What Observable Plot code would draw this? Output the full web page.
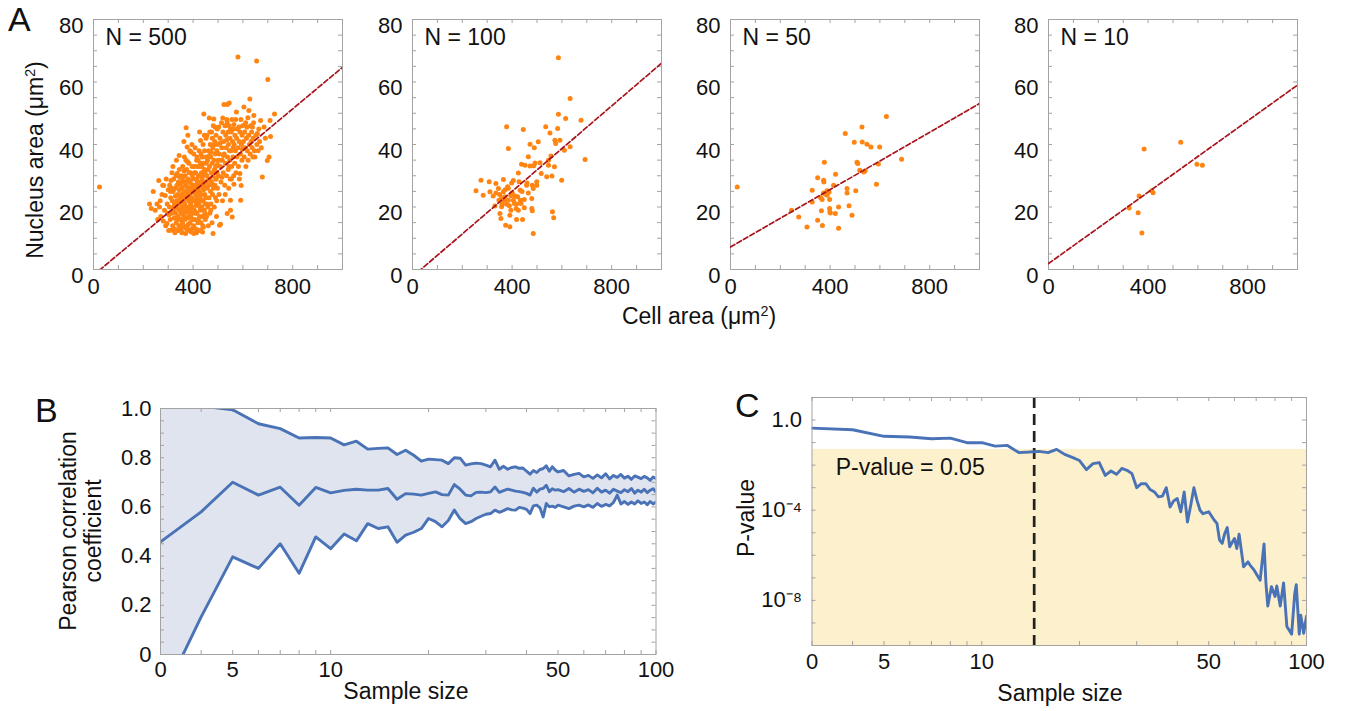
<!DOCTYPE html>
<html><head><meta charset="utf-8">
<script src="https://cdn.jsdelivr.net/npm/d3@7"></script>
<script src="https://cdn.jsdelivr.net/npm/@observablehq/plot@0.6"></script>
<style>
body{margin:0;background:#fff;font-family:"Liberation Sans",Arial,sans-serif;}
#root{position:relative;width:1345px;height:711px;overflow:hidden;background:#fff;}
.panel{position:absolute;}
.lbl{position:absolute;color:#111;white-space:nowrap;font-size:23px;line-height:1;}
.rot{transform:translate(-50%,-50%) rotate(-90deg);text-align:center;}
.ctr{transform:translate(-50%,-50%);}
.letter{position:absolute;font-size:34px;color:#111;line-height:1;}
sup{font-size:0.62em;vertical-align:0.55em;line-height:0;}
</style></head><body><div id="root"></div><script>
// ---------- Panel A data (cell area µm², nucleus area µm²) ----------
const panelLabels = ["N = 500", "N = 100", "N = 50", "N = 10"];
const fitSlope = [0.0665, 0.0683, 0.0459, 0.0571];
const fitIntercept = [-1.8, -2.29, 7.2, 1.9];
const cellTicksMajor = [0, 400, 800];
const cellTicksMinor = [0,100,200,300,400,500,600,700,800,900,1000];
const nucTicksMajor = [0, 20, 40, 60, 80];
const nucTicksMinor = [0,5,10,15,20,25,30,35,40,45,50,55,60,65,70,75,80];

const pts500 = [
[24,26.4],
[225,21],[232,19.5],[240,25],[248,19],[255,21],[258,16],[262,28.5],[268,22],[270,17],[275,24],[278,27],[282,26.9],[285,19],[288,23.7],[290,14],[292,29],[295,14.7],[296,21],[298,18],[300,25.5],[265,20],[280,15.5],
[302,12.5],[305,20],[306,27],[308,16],[310,23],[311,28.5],[312,12.6],[314,18],[315,31],[316,22],[318,14],[320,25],[321,19],[322,29],[324,16.5],[325,21],[326,13],[328,26],[329,23.5],[330,18],[331,30],[332,15],[334,22],[335,27],[336,30.7],[337,12.5],[338,19.5],[339,24],[340,17],[341,28],[342,21],[343,14],[344,25.5],[345,32],[346,19],[347,23],[348,16],[349,27.5],[350,13],[350,21.5],[303,17.5],[309,25],[319,33],[327,11.8],[333,35],[344,36.5],[313,26],[323,20],[336,16],[347,29.5],
[351,24],[352,18],[353,30],[354,12],[355,26.5],[356,20],[357,15],[358,33],[359,22.5],[360,17.5],[361,28],[362,13.5],[363,25],[364,19],[365,36],[366,21],[367,16],[368,30],[369,23],[370,11.5],[371,27],[372,45.4],[373,18.5],[374,32],[375,24.5],[376,39.2],[377,14],[378,20],[379,29],[380,16.5],[381,26],[382,22],[383,34],[384,12.5],[385,19],[386,28.5],[387,24],[388,15],[389,31],[390,21],[391,17],[392,37.6],[393,26],[394,13],[395,23],[396,19.5],[397,30],[398,16],[399,27],[400,22],[352,26],[354,16],[357,29],[359,14.5],[361,22],[364,31.5],[366,25],[368,17],[370,20],[372,28],[374,13],[376,23],[378,34.5],[380,19],[382,25.5],[384,31],[386,17.5],[388,22.5],[390,27.5],[392,12],[394,20],[396,33],[398,25],[355,11.8],[363,41],[371,35],[379,43],[387,38],[395,40],[360,23.5],[367,19],[373,26.5],[381,14.5],[389,24.5],[397,18],
[401,29],[402,14],[403,11.5],[404,25],[405,19],[406,33],[407,22],[408,16],[409,27],[410,31],[411,20.5],[412,13],[413,24],[414,35],[415,18],[416,36],[417,28],[418,22],[419,15],[420,26],[421,30],[422,12.5],[423,21],[424,38],[425,25],[426,17],[427,33],[428,23],[429,19],[430,41.3],[430,12.6],[431,28],[432,15],[433,31],[434,24],[435,20],[436,36],[437,26.5],[438,17],[439,30],[440,22],[441,13.5],[442,34],[443,49.8],[444,27],[445,19],[446,38],[447,24],[448,31],[449,16],[450,28],[403,37],[406,26],[409,18],[412,22.5],[415,29],[418,33],[421,16],[424,27],[427,20],[430,34],[433,22],[436,29],[439,14],[442,25.5],[445,32],[448,21],[405,31],[410,24],[415,21],[420,35],[425,30],[435,33],[440,40],[445,43],[450,36],[408,39],[426,44],[438,12],[414,11.8],[432,37],[447,18],[422,23.5],[417,25.5],[428,27.5],
[451,23],[452,42],[454,17],[455,30],[456,42.9],[457,26],[458,35],[459,20],[460,32],[461,14],[462,38],[463,27],[464,23],[465,48.5],[466,33],[467,18],[468,29],[469,40],[470,25],[471,36],[472,21],[473,31],[474,44],[475,28],[476,15],[477,34],[478,24],[479,39],[480,11.5],[480,30],[481,46],[482,26],[483,48.2],[484,35],[485,20],[486,32],[487,41],[488,27],[489,37],[490,23],[491,33],[492,43],[493,29],[494,17],[495,38],[496,31],[497,45],[498,26],[499,35],[500,40],[453,34],[459,28.5],[465,36.5],[471,19],[477,42],[483,31],[489,45.5],[495,22],[467,44],[473,37.5],[485,40],[491,29],[497,33.5],[456,21],[479,27],
[502,30],[503,45.6],[505,37],[506,14.2],[508,42],[510,14.5],[510,33],[512,28],[514,47],[515,39],[517,35],[518,22],[520,44],[521,31],[523,41],[524,52.8],[525,37],[527,27],[528,46],[530,34],[531,43],[533,39],[534,30],[535,48],[537,52.8],[537,47.2],[537,17.9],[538,36],[540,44],[541,32],[542,40],[543,26],[545,53.3],[545,46],[546,38],[547,35],[548,42],[549,29],[550,19],[550,45],[550,22.2],[504,24],[509,40.5],[516,29.5],[522,36.5],[529,24],[536,41.5],[544,33],[507,35],[519,48.5],
[552,38],[553,44],[555,33],[556,48],[557,16.8],[558,41],[560,36],[562,45],[563,30],[564,46.4],[564,27.3],[565,40],[567,34],[568,43],[570,38],[571,48],[572,31],[574,50.4],[575,42],[576,36],[578,45],[580,68],[580,39],[582,33],[584,45.6],[585,41],[586,29],[588,30.7],[588,44],[590,37],[591,22.2],[592,48],[593,26.9],[594,40],[596,35],[597,43],[598,38.5],[599,46],[554,29],[561,39],
[602,41],[604,52],[605,36],[607,44],[609,39],[611,47],[612,33],[614,42],[616,45.5],[618,38],[620,48.6],[621,35],[623,43],[624,50.9],[626,40],[628,54.6],[629,37],[631,46],[633,41],[635,44],[637,39],[638,45.6],[640,36],[641,42],[643,47],[644,49.3],[646,38],[648,36],
[652,43],[655,66.7],[656,40],[658,43.5],[661,38],[664,45],[667,41],[671,47.7],[674,39],[678,29.6],[685,45.6],[690,42],[698,34.9],[700,60.8],[705,36],[709,47.7],[711,42.6],[727,49.8]
];

const pts100 = [
[255,25.2],[275,28.6],[284,23.8],[308,28.1],[331,20.3],[335,27.5],[335,24.5],[345,25.9],[351,17.9],[355,16.3],[358,20.1],[365,28.8],[365,24.9],[371,23.3],[374,14.2],[378,45.7],[382,26.5],[385,38.7],[385,22.2],[391,13.7],[391,17.4],[398,27.7],[401,24.5],[405,22.2],[409,21.1],[416,19.5],[418,16.0],[422,23.3],[425,19.0],[425,30.9],[432,25.4],[436,21.1],[438,33.7],[442,16.0],[445,44.8],[449,22.4],[452,33.4],[458,27.0],[465,36.1],[472,40.1],[479,22.7],[479,19.5],[481,18.8],[481,27.0],[485,11.5],[487,33.2],[489,39.0],[499,27.0],[505,40.9],[512,34.2],[535,45.7],[539,29.7],[552,43.7],[556,36.3],[560,29.9],[562,18.5],[567,16.6],[572,41.4],[575,40.3],[583,45.1],[586,67.8],[586,49.7],[592,41.4],[610,38.2],[615,48.3],[633,54.7],[633,39.3],[677,47.8],[693,35.2],[311,24.9],[324,23.5],[347,22.2],[358,23.0],[368,22.2],[378,20.9],[389,20.4],[395,23.6],[412,23.5],[428,28.1],[433,22.2],[449,19.8],[460,27.7],[472,33.1],[465,24.5],[485,25.9],[492,34.1],[499,28.1],[517,30.7],[546,33.4],[546,35.0],[570,32.9],[599,28.6],[385,26],[418,21],[395,19],[440,25],[360,21],[372,25.5],[405,28.5],[350,24]
];

const pts50 = [
[27,26.4],[245,19.0],[274,16.8],[307,13.6],[328,25.4],[328,21.6],[350,29.4],[350,15.8],[365,18.8],[368,22.4],[369,14.1],[374,28.6],[375,28.0],[377,34.3],[374,24.5],[381,24.1],[388,25.2],[396,24.8],[398,22.4],[398,19.5],[399,18.4],[401,18.1],[414,27.0],[421,17.9],[422,30.5],[434,20.0],[434,13.2],[468,25.9],[468,24.5],[461,43.5],[476,20.4],[488,17.4],[497,40.7],[503,25.2],[508,34.3],[511,33.9],[519,31.8],[528,45.6],[529,40.8],[535,31.2],[548,40.1],[564,39.2],[586,27.3],[594,33.8],[599,39.2],[626,49.0],[687,35.3],[541,31.6],[388,23.8],[362,23.0]
];

const pts10 = [
[324,19.7],[360,18.2],[364,23.5],[375,11.7],[384,38.6],[420,24.6],[415,25.2],[531,40.7],[596,33.7],[618,33.4]
];

// ---------- Panel B data: Pearson r vs sample size ----------
const sampleN = [3,4,5,6,7,8,9,10,11,12,13,14,15,16,17,18,19,20,21,22,23,24,25,26,27,28,29,30,31,32,33,34,35,36,37,38,39,40,41,42,43,44,45,46,47,48,49,50,52,54,56,58,60,62,64,66,68,70,72,74,76,78,80,82,84,86,88,90,92,94,96,98,100];
const rUpper = [1.08,1.01,0.995,0.938,0.918,0.88,0.882,0.88,0.852,0.867,0.835,0.838,0.84,0.813,0.83,0.81,0.786,0.794,0.792,0.79,0.776,0.8,0.798,0.77,0.775,0.778,0.776,0.77,0.763,0.79,0.753,0.765,0.753,0.76,0.763,0.757,0.758,0.745,0.733,0.748,0.74,0.752,0.756,0.767,0.745,0.763,0.75,0.742,0.748,0.726,0.732,0.736,0.722,0.728,0.716,0.73,0.718,0.735,0.714,0.728,0.72,0.732,0.717,0.725,0.712,0.726,0.721,0.715,0.724,0.718,0.708,0.722,0.715];
const rMid = [0.458,0.58,0.70,0.648,0.68,0.607,0.679,0.657,0.667,0.672,0.668,0.668,0.675,0.631,0.654,0.652,0.648,0.655,0.661,0.65,0.648,0.691,0.672,0.648,0.645,0.659,0.66,0.658,0.661,0.681,0.659,0.666,0.672,0.668,0.664,0.662,0.659,0.655,0.648,0.676,0.66,0.672,0.675,0.688,0.662,0.674,0.668,0.67,0.662,0.675,0.66,0.672,0.663,0.67,0.657,0.676,0.66,0.668,0.656,0.672,0.664,0.658,0.67,0.662,0.675,0.656,0.668,0.66,0.672,0.658,0.668,0.674,0.66];
const rLower = [-0.19,0.153,0.397,0.35,0.45,0.33,0.478,0.43,0.49,0.462,0.532,0.512,0.519,0.456,0.485,0.497,0.512,0.553,0.54,0.519,0.545,0.587,0.552,0.532,0.54,0.553,0.562,0.57,0.573,0.587,0.578,0.585,0.593,0.588,0.587,0.598,0.595,0.59,0.573,0.604,0.607,0.596,0.559,0.614,0.6,0.603,0.598,0.607,0.6,0.593,0.603,0.607,0.6,0.608,0.598,0.614,0.602,0.61,0.604,0.618,0.648,0.612,0.622,0.61,0.62,0.612,0.625,0.614,0.62,0.609,0.622,0.612,0.62];
const rTicksMajor = [0,0.2,0.4,0.6,0.8,1.0];
const rTicksMinor = [0,0.05,0.1,0.15,0.2,0.25,0.3,0.35,0.4,0.45,0.5,0.55,0.6,0.65,0.7,0.75,0.8,0.85,0.9,0.95,1.0];
const nTicksMinor = [3,4,5,6,7,8,9,10,20,30,40,50,60,70,80,90,100];
const nTicksMajor = [3,5,10,50,100];
const nTickLabels = ["0","5","10","50","100"];

// ---------- Panel C data: P-value vs sample size ----------
const pN = [3,4,5,6,7,8,9,10,11,12,13,14,15,16,17,18,19,20,21,22,23,24,25,26,27,28,29,30,31,32,33,34,35,36,37,38,39,40,41,42,43,44,45,46,47,48,50,52,53,54,55,56,57,58,60,61,62,64,66,67,69,71,72,74,75,76,78,80,81,83,85,87,90,92,93,95,96,98,100];
const pValue = [0.44,0.37,0.19,0.176,0.149,0.158,0.099,0.099,0.07,0.075,0.036,0.038,0.041,0.036,0.05,0.03,0.022,0.016,0.0063,0.0116,0.013,0.0035,0.0055,0.0039,0.0071,0.0059,0.0042,0.001,0.0015,0.0015,0.00083,0.00065,0.00039,0.00042,0.001,0.00014,0.00026,0.00033,0.000085,0.00065,0.00003,0.000166,0.001,0.000275,0.0001,0.00007,0.000085,0.000036,0.000026,4.7e-6,3.4e-6,9.3e-6,1.7e-5,2.4e-6,5.6e-6,2e-6,8.7e-6,3.1e-7,5.1e-7,3.7e-7,2.2e-7,1.1e-7,7.9e-8,3.2e-6,5.8e-8,5.6e-9,4.1e-8,1.5e-8,4.4e-8,5.6e-9,6e-8,6.9e-10,3.2e-10,2e-8,5e-8,3.2e-10,2.2e-9,3.5e-10,2e-9];
const pThreshold = 0.05;
const pCrossN = 14.5;
const pTicksMajor = [1, 1e-4, 1e-8];
const pTicksMinor = [1e-10,1e-9,1e-8,1e-7,1e-6,1e-5,1e-4,1e-3,1e-2,1e-1,1,10];
const pDomain = [1e-10, 10];
const thresholdText = "P-value = 0.05";
const thresholdTextPos = {n: 3.55, p: 0.008};

// ---------- styling ----------
const FONT = "'Liberation Sans', Arial, Helvetica, sans-serif";
const FRAME = "#a3a3a3";
const ORANGE = "#ff8412";
const BLUE = "#4a72b6";
const TICKFS = 22;
const root = document.getElementById("root");

function place(el, left, top) {
  el.classList.add("panel");
  el.style.left = left + "px";
  el.style.top = top + "px";
  root.appendChild(el);
}
function innerTicks(xVals, yVals, fw, fh, len) {
  return [
    Plot.tickX(xVals, {x: d => d, insetTop: fh - len, stroke: FRAME}),
    Plot.tickX(xVals, {x: d => d, insetBottom: fh - len, stroke: FRAME}),
    Plot.tickY(yVals, {y: d => d, insetRight: fw - len, stroke: FRAME}),
    Plot.tickY(yVals, {y: d => d, insetLeft: fw - len, stroke: FRAME})
  ];
}

// ---------- Panel A ----------
const allPts = [pts500, pts100, pts50, pts10];
const frameLefts = [93, 411.5, 730, 1048];
allPts.forEach((pts, i) => {
  const W = 350, H = 305, mL = 92, mT = 19, fw = 249, fh = 250;
  const fitLine = [0, 1000].map(x => ({x, y: fitIntercept[i] + fitSlope[i] * x}));
  const chart = Plot.plot({
    width: W, height: H,
    marginLeft: mL, marginRight: W - mL - fw, marginTop: mT, marginBottom: H - mT - fh,
    style: {fontFamily: FONT, fontSize: TICKFS + "px", color: "#111", background: "transparent", overflow: "visible"},
    x: {domain: [0, 1000]},
    y: {domain: [0, 80]},
    marks: [
      ...innerTicks(cellTicksMinor, nucTicksMinor, fw, fh, 4),
      Plot.frame({stroke: FRAME}),
      Plot.dot(pts, {x: d => d[0], y: d => d[1], r: 2.5, fill: ORANGE, stroke: "none"}),
      Plot.line(fitLine, {x: "x", y: "y", stroke: "#a8141c", strokeWidth: 1.7, strokeDasharray: "5,2.5", clip: true}),
      Plot.axisX({ticks: cellTicksMajor, tickSize: 0, tickPadding: 9, label: null, fontSize: TICKFS}),
      Plot.axisY({ticks: nucTicksMajor, tickSize: 0, tickPadding: 10, dy: 6, label: null, fontSize: TICKFS}),
      Plot.text([panelLabels[i]], {frameAnchor: "top-left", text: d => d, dx: 12, dy: 9, textAnchor: "start", lineAnchor: "top", fontSize: 23})
    ]
  });
  place(chart, frameLefts[i] - mL, 0);
});

// ---------- Panel B ----------
{
  const W = 700, H = 331, mL = 160, mT = 28, fw = 495.5, fh = 246;
  const table = sampleN.map((n, i) => ({n, lo: rLower[i], mid: rMid[i], hi: rUpper[i]}));
  const chart = Plot.plot({
    width: W, height: H,
    marginLeft: mL, marginRight: W - mL - fw, marginTop: mT, marginBottom: H - mT - fh,
    style: {fontFamily: FONT, fontSize: TICKFS + "px", color: "#111", background: "transparent", overflow: "visible"},
    x: {type: "log", domain: [3, 100]},
    y: {domain: [0, 1]},
    marks: [
      Plot.areaY(table, {x: "n", y1: "lo", y2: "hi", fill: "#dfe4ee", clip: true}),
      ...innerTicks(nTicksMinor, rTicksMinor, fw, fh, 4),
      Plot.line(table, {x: "n", y: "hi", stroke: BLUE, strokeWidth: 2.9, clip: true}),
      Plot.line(table, {x: "n", y: "mid", stroke: BLUE, strokeWidth: 2.9, clip: true}),
      Plot.line(table, {x: "n", y: "lo", stroke: BLUE, strokeWidth: 2.9, clip: true}),
      Plot.frame({stroke: FRAME}),
      Plot.axisX({ticks: nTicksMajor, tickSize: 0, tickPadding: 7, label: null, fontSize: TICKFS,
        tickFormat: d => nTickLabels[nTicksMajor.indexOf(d)]}),
      Plot.axisY({ticks: rTicksMajor, tickSize: 0, tickPadding: 9, label: null, fontSize: TICKFS,
        tickFormat: d => d === 0 ? "0" : d.toFixed(1)})
    ]
  });
  place(chart, 0, 380);
}

// ---------- Panel C ----------
{
  const W = 645, H = 341, mL = 111.5, mT = 27, fw = 494.5, fh = 248;
  const table = pN.map((n, i) => ({n, p: pValue[i]}));
  const sup = {"-": "\u207B", "0": "\u2070", "1": "\u00B9", "2": "\u00B2", "3": "\u00B3", "4": "\u2074", "5": "\u2075", "6": "\u2076", "7": "\u2077", "8": "\u2078", "9": "\u2079"};
  const fmtP = d => d === 1 ? "1.0" : "10" + String(Math.round(Math.log10(d))).split("").map(c => sup[c]).join("");
  const chart = Plot.plot({
    width: W, height: H,
    marginLeft: mL, marginRight: W - mL - fw, marginTop: mT, marginBottom: H - mT - fh,
    style: {fontFamily: FONT, fontSize: TICKFS + "px", color: "#111", background: "transparent", overflow: "visible"},
    x: {type: "log", domain: [3, 100]},
    y: {type: "log", domain: pDomain},
    marks: [
      Plot.rect([{x1: 3, x2: 100, y1: pDomain[0], y2: pThreshold}], {x1: "x1", x2: "x2", y1: "y1", y2: "y2", fill: "#fdf0cc"}),
      ...innerTicks(nTicksMinor, pTicksMinor, fw, fh, 4),
      Plot.ruleX([pCrossN], {x: d => d, stroke: "#222", strokeWidth: 2.7, strokeDasharray: "11,6"}),
      Plot.line(table, {x: "n", y: "p", stroke: BLUE, strokeWidth: 2.9, clip: true}),
      Plot.text([thresholdText], {x: thresholdTextPos.n, y: thresholdTextPos.p, text: d => d, textAnchor: "start", fontSize: 23, fill: "#111"}),
      Plot.frame({stroke: FRAME}),
      Plot.axisX({ticks: nTicksMajor, tickSize: 0, tickPadding: 8, label: null, fontSize: TICKFS,
        tickFormat: d => nTickLabels[nTicksMajor.indexOf(d)]}),
      Plot.axisY({ticks: pTicksMajor, tickSize: 0, tickPadding: 10, label: null, fontSize: TICKFS, tickFormat: fmtP})
    ]
  });
  place(chart, 700, 370);
}

// ---------- shared labels ----------
function label(html, cls, left, top) {
  const d = document.createElement("div");
  d.className = cls;
  d.innerHTML = html;
  d.style.left = left + "px";
  d.style.top = top + "px";
  root.appendChild(d);
  return d;
}
label("A", "letter", 8, 2);
label("B", "letter", 35, 393);
label("C", "letter", 735, 388);
label("Nucleus area (\u03BCm<sup>2</sup>)", "lbl rot", 35, 160);
label("Cell area (\u03BCm<sup>2</sup>)", "lbl ctr", 699, 316);
label("Pearson correlation<br>coefficient", "lbl rot", 81, 531).style.lineHeight = "25px";
label("Sample size", "lbl ctr", 406, 691);
label("Sample size", "lbl ctr", 1060, 693);
label("P-value", "lbl rot", 746, 518);
</script></body></html>
